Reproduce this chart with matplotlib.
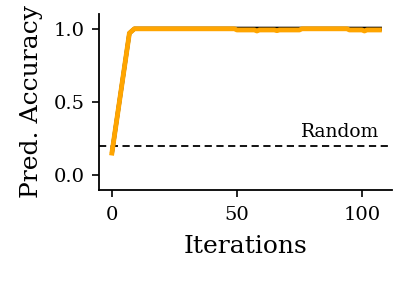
import matplotlib
matplotlib.use("Agg")
import matplotlib.pyplot as plt

plt.rcParams['font.family'] = ['DejaVu Serif']

# Data
iters_ref = [0, 7, 9, 50, 108]
acc_ref = [0.15, 0.97, 1.0, 1.0, 1.0]

iters = [0, 7, 9, 49, 50, 57, 58, 59, 65, 66, 67, 75, 76, 94, 95, 100, 101, 102, 107]
acc = [0.15, 0.97, 1.0, 1.0, 0.992, 0.992, 0.985, 0.992, 0.992, 0.987, 0.992, 0.992,
       1.0, 1.0, 0.992, 0.992, 0.985, 0.992, 0.992]
random_level = 0.2

fig = plt.figure(figsize=(4.07, 2.83), dpi=100)
ax = fig.add_axes([0.243, 0.33, 0.72, 0.62])

ax.plot(iters_ref, acc_ref, color='black', lw=3, solid_capstyle='butt', zorder=2)
ax.plot(iters, acc, color='orange', lw=3.5, zorder=3)
ax.axhline(random_level, color='black', ls='--', lw=1.3, dashes=(4, 2.5), zorder=1)
ax.text(107, random_level + 0.03, 'Random', ha='right', va='bottom', fontsize=13.5)

ax.set_xlim(-5.2, 112)
ax.set_ylim(-0.1, 1.1)
ax.set_xticks([0, 50, 100])
ax.set_yticks([0.0, 0.5, 1.0])
ax.set_xlabel('Iterations', fontsize=18, labelpad=8)
ax.set_ylabel('Pred. Accuracy', fontsize=18, labelpad=8)
ax.tick_params(labelsize=14, width=1.2, length=5)
ax.tick_params(axis='x', pad=7)
ax.tick_params(axis='y', pad=5)
for s in ['top', 'right']:
    ax.spines[s].set_visible(False)
for s in ['left', 'bottom']:
    ax.spines[s].set_linewidth(1.3)

fig.savefig('out.png', dpi=100)
